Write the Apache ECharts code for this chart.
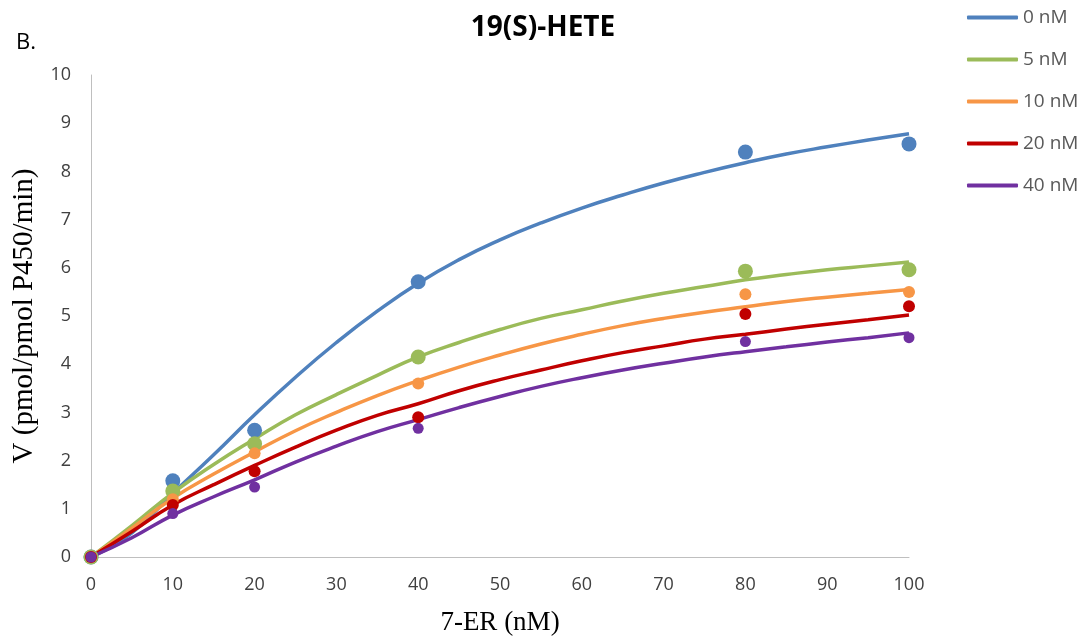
<!DOCTYPE html>
<html>
<head>
<meta charset="utf-8">
<script src="https://cdn.jsdelivr.net/npm/echarts@6/dist/echarts.min.js"></script>
<style>html,body{margin:0;padding:0;background:#fff;}#chart{width:1081px;height:641px;}</style>
</head>
<body>
<div id="chart"></div>
<script>
var seriesNames = ['0 nM', '5 nM', '10 nM', '20 nM', '40 nM'];
var colors = ['#4F81BD', '#9BBB59', '#F79646', '#C00000', '#7030A0'];
var dotSizes = [15, 15, 12, 12, 11];

// measured points
var pointX = [0, 10, 20, 40, 80, 100];
var points0 = [0, 1.58, 2.63, 5.71, 8.40, 8.57];
var points5 = [0, 1.37, 2.35, 4.15, 5.93, 5.96];
var points10 = [0, 1.20, 2.15, 3.60, 5.45, 5.50];
var points20 = [0, 1.08, 1.78, 2.90, 5.04, 5.20];
var points40 = [0, 0.90, 1.45, 2.67, 4.47, 4.55];

// fitted curves (read every 5 nM)
var curveX = [0, 5, 10, 15, 20, 25, 30, 35, 40, 45, 50, 55, 60, 65, 70, 75, 80, 85, 90, 95, 100];
var curve0 = [0, 0.50, 1.32, 2.12, 2.95, 3.73, 4.45, 5.10, 5.68, 6.17, 6.58, 6.93, 7.24, 7.51, 7.76, 7.98, 8.18, 8.36, 8.51, 8.65, 8.78];
var curve5 = [0, 0.65, 1.33, 1.92, 2.45, 2.95, 3.37, 3.77, 4.15, 4.45, 4.72, 4.95, 5.13, 5.31, 5.47, 5.61, 5.75, 5.86, 5.96, 6.04, 6.12];
var curve10 = [0, 0.60, 1.22, 1.72, 2.18, 2.62, 3.00, 3.35, 3.66, 3.94, 4.19, 4.42, 4.62, 4.80, 4.95, 5.08, 5.19, 5.30, 5.39, 5.47, 5.55];
var curve20 = [0, 0.53, 1.08, 1.50, 1.90, 2.28, 2.63, 2.94, 3.18, 3.45, 3.68, 3.88, 4.07, 4.24, 4.38, 4.52, 4.62, 4.73, 4.83, 4.92, 5.02];
var curve40 = [0, 0.40, 0.87, 1.25, 1.60, 1.97, 2.30, 2.60, 2.85, 3.10, 3.33, 3.54, 3.72, 3.88, 4.02, 4.15, 4.26, 4.36, 4.46, 4.55, 4.65];

var xTicks = [0, 10, 20, 30, 40, 50, 60, 70, 80, 90, 100];
var yTicks = [0, 1, 2, 3, 4, 5, 6, 7, 8, 9, 10];

var curves = [curve0, curve5, curve10, curve20, curve40];
var pts = [points0, points5, points10, points20, points40];

function pair(xs, ys) { return xs.map(function (x, i) { return [x, ys[i]]; }); }

var series = [];
seriesNames.forEach(function (n, i) {
  series.push({
    name: n, type: 'line', data: pair(curveX, curves[i]), smooth: 0.5,
    showSymbol: false, symbol: 'none', lineStyle: { width: 3.5, color: colors[i] },
    itemStyle: { color: colors[i] }, z: 2
  });
});
seriesNames.forEach(function (n, i) {
  series.push({
    name: n + ' data', type: 'scatter', data: pair(pointX, pts[i]),
    symbolSize: dotSizes[i], itemStyle: { color: colors[i], opacity: 1 }, z: 3
  });
});

var chart = echarts.init(document.getElementById('chart'));
chart.setOption({
  animation: false,
  backgroundColor: '#fff',
  title: [
    { text: '19(S)-HETE', left: 538, top: 9, textAlign: 'center',
      textStyle: { fontFamily: 'Open Sans', fontWeight: 'bold', fontSize: 28, color: '#000' } },
    { text: 'B.', left: 11, top: 27,
      textStyle: { fontFamily: 'Open Sans', fontWeight: 'normal', fontSize: 22, color: '#000' } }
  ],
  legend: {
    orient: 'vertical', left: 967, top: 8, padding: 0, itemWidth: 51, itemHeight: 4, itemGap: 23,
    icon: 'roundRect', data: seriesNames,
    textStyle: { fontFamily: 'Open Sans', fontSize: 19, color: '#595959' }
  },
  grid: { left: 91, right: 172, top: 75, bottom: 84 },
  xAxis: {
    type: 'value', min: 0, max: 100, interval: 10,
    name: '7-ER (nM)', nameLocation: 'middle', nameGap: 52,
    nameTextStyle: { fontFamily: 'Liberation Serif', fontSize: 27, color: '#000' },
    axisLine: { show: true, lineStyle: { color: '#BFBFBF', width: 1 } },
    axisTick: { show: false }, splitLine: { show: false },
    axisLabel: { fontFamily: 'Open Sans', fontSize: 18, color: '#404040', margin: 19 }
  },
  yAxis: {
    type: 'value', min: 0, max: 10, interval: 1,
    name: 'V (pmol/pmol P450/min)', nameLocation: 'middle', nameGap: 52,
    nameTextStyle: { fontFamily: 'Liberation Serif', fontSize: 29, color: '#000' },
    axisLine: { show: true, lineStyle: { color: '#BFBFBF', width: 1 } },
    axisTick: { show: false }, splitLine: { show: false },
    axisLabel: { fontFamily: 'Open Sans', fontSize: 18, color: '#404040', margin: 20 }
  },
  series: series
});
</script>
</body>
</html>
